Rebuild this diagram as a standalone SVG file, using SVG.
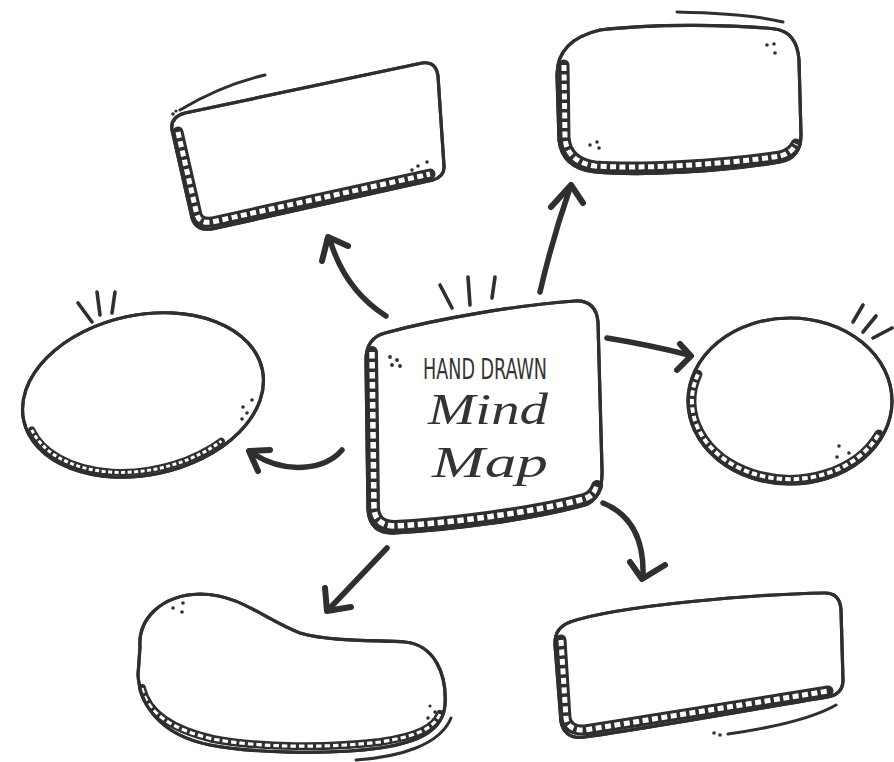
<svg xmlns="http://www.w3.org/2000/svg" width="894" height="762" viewBox="0 0 894 762">
<style>
.o{fill:#fff;stroke:#2f2f2f;stroke-width:3.2;stroke-linejoin:round}
.bd{fill:none;stroke:#2f2f2f;stroke-linecap:round;stroke-linejoin:round}
.bw{fill:none;stroke:#fff;stroke-linejoin:round}
.ln{fill:none;stroke:#2f2f2f;stroke-width:3;stroke-linecap:round}
.tk{fill:none;stroke:#2f2f2f;stroke-width:3.6;stroke-linecap:round}
.dt{fill:#2f2f2f}
.ar{fill:none;stroke:#2f2f2f;stroke-width:5.5;stroke-linecap:round;stroke-linejoin:round}
.ah{fill:none;stroke:#2f2f2f;stroke-width:6;stroke-linecap:round;stroke-linejoin:round}
.cap{font-family:"Liberation Sans Narrow","DejaVu Sans Condensed","Liberation Sans",sans-serif;font-size:29px;fill:#333}
.scr{font-family:"Liberation Serif","DejaVu Serif",serif;font-style:italic;font-size:44px;fill:#333}
</style>
<rect width="894" height="762" fill="#fff"/>

<g id="node-center">
<path class="o" d="M 385,333 C 440,318 520,305 575,301 Q 596,300 598,322 L 602,470 Q 603,498 585,505 C 530,520 450,530 395,533 Q 370,534 368,510 L 366,360 Q 366,338 385,333 Z"/>
<path class="bd" stroke-width="12" d="M 372,352 L 374,508 Q 375,526 395,526 C 450,523 530,513 584,499 Q 594,496 597,486"/>
<path class="bw" stroke-width="5.5" stroke-dasharray="6.5 3.5" d="M 372,352 L 374,508 Q 375,526 395,526 C 450,523 530,513 584,499 Q 594,496 597,486"/>
<path class="o" style="fill:none" d="M 385,333 C 440,318 520,305 575,301 Q 596,300 598,322 L 602,470 Q 603,498 585,505 C 530,520 450,530 395,533 Q 370,534 368,510 L 366,360 Q 366,338 385,333 Z"/>
<line class="tk" x1="440" y1="285" x2="452" y2="308"/>
<line class="tk" x1="468" y1="277" x2="470" y2="305"/>
<line class="tk" x1="495" y1="277" x2="492" y2="298"/>
<circle class="dt" cx="390" cy="357" r="1.9"/><circle class="dt" cx="397" cy="360" r="1.9"/><circle class="dt" cx="392" cy="365" r="1.9"/><circle class="dt" cx="400" cy="366" r="1.9"/>
<text class="cap" x="423" y="379" textLength="124" lengthAdjust="spacingAndGlyphs">HAND DRAWN</text>
<text class="scr" x="428" y="424" textLength="120" lengthAdjust="spacingAndGlyphs">Mind</text>
<text class="scr" x="432" y="477" textLength="116" lengthAdjust="spacingAndGlyphs">Map</text>
</g>

<g id="node-top-left">
<path class="o" d="M 185,113 L 422,63 Q 436,61 438,76 L 444,166 Q 445,176 433,180 L 212,229 Q 196,231 192,218 L 172,130 Q 170,117 185,113 Z"/>
<path class="bd" stroke-width="11" d="M 178,132 L 197,215 Q 200,224 212,222 L 430,174"/>
<path class="bw" stroke-width="5" stroke-dasharray="6 3.5" d="M 178,132 L 197,215 Q 200,224 212,222 L 430,174"/>
<path class="o" style="fill:none" d="M 185,113 L 422,63 Q 436,61 438,76 L 444,166 Q 445,176 433,180 L 212,229 Q 196,231 192,218 L 172,130 Q 170,117 185,113 Z"/>
<path class="ln" d="M 180,110 C 205,95 235,82 265,75"/>
<circle class="dt" cx="173" cy="114" r="1.8"/><circle class="dt" cx="176" cy="111" r="1.6"/>
<circle class="dt" cx="412" cy="170" r="1.8"/><circle class="dt" cx="418" cy="166" r="1.8"/><circle class="dt" cx="427" cy="162" r="1.8"/><circle class="dt" cx="422" cy="172" r="1.8"/>
</g>

<g id="node-top-right">
<path class="o" d="M 600,30 C 650,24 730,24 775,29 Q 797,32 799,60 L 801,135 Q 801,158 780,162 C 720,172 640,176 595,172 Q 562,168 559,140 L 557,75 Q 557,40 600,30 Z"/>
<path class="bd" stroke-width="11" d="M 564,65 L 565,138 Q 567,162 595,166 C 640,169 720,165 780,156 Q 792,153 796,144"/>
<path class="bw" stroke-width="5" stroke-dasharray="6 3.5" d="M 564,65 L 565,138 Q 567,162 595,166 C 640,169 720,165 780,156 Q 792,153 796,144"/>
<path class="o" style="fill:none" d="M 600,30 C 650,24 730,24 775,29 Q 797,32 799,60 L 801,135 Q 801,158 780,162 C 720,172 640,176 595,172 Q 562,168 559,140 L 557,75 Q 557,40 600,30 Z"/>
<path class="ln" d="M 677,12 C 720,13 760,16 783,22"/>
<circle class="dt" cx="767" cy="45" r="1.8"/><circle class="dt" cx="774" cy="44" r="1.8"/><circle class="dt" cx="775" cy="53" r="1.8"/>
<circle class="dt" cx="590" cy="145" r="1.8"/><circle class="dt" cx="597" cy="142" r="1.8"/><circle class="dt" cx="599" cy="148" r="1.8"/>
</g>

<g id="node-left">
<g transform="translate(143,395) rotate(-12)">
<ellipse class="o" cx="0" cy="0" rx="122" ry="80"/>
<path class="bd" stroke-width="7" d="M -116,11 A 117 75 0 0 0 67.1,61.4"/>
<path class="bw" stroke-width="3" stroke-dasharray="4 2.5" d="M -116,11 A 117 75 0 0 0 67.1,61.4"/>
<ellipse class="o" style="fill:none" cx="0" cy="0" rx="122" ry="80"/>
</g>
<line class="tk" x1="78" y1="303" x2="92" y2="322"/>
<line class="tk" x1="97" y1="292" x2="100" y2="315"/>
<line class="tk" x1="115" y1="292" x2="112" y2="313"/>
<circle class="dt" cx="243" cy="407" r="1.8"/><circle class="dt" cx="252" cy="400" r="1.8"/><circle class="dt" cx="247" cy="413" r="1.8"/><circle class="dt" cx="242" cy="419" r="1.8"/>
</g>

<g id="node-right">
<g transform="translate(790,401)">
<ellipse class="o" cx="0" cy="0" rx="102" ry="83"/>
<path class="bd" stroke-width="9" d="M -92.1,-26.7 A 98 78 0 0 0 88.8,33"/>
<path class="bw" stroke-width="4" stroke-dasharray="5.5 3" d="M -92.1,-26.7 A 98 78 0 0 0 88.8,33"/>
<ellipse class="o" style="fill:none" cx="0" cy="0" rx="102" ry="83"/>
</g>
<line class="tk" x1="853" y1="322" x2="863" y2="305"/>
<line class="tk" x1="863" y1="332" x2="876" y2="316"/>
<line class="tk" x1="873" y1="338" x2="892" y2="328"/>
<circle class="dt" cx="839" cy="446" r="1.8"/><circle class="dt" cx="837" cy="457" r="1.8"/><circle class="dt" cx="849" cy="453" r="1.8"/>
</g>

<g id="node-bottom-left">
<path class="o" d="M 140,647 C 138,620 160,595 200,594 C 240,594 265,620 300,633 C 330,642 380,640 405,642 C 435,645 447,675 445,705 C 443,730 420,742 380,748 C 330,755 250,753 210,745 C 160,735 140,705 138,675 Z"/>
<path class="bd" stroke-width="8" d="M 142,688 C 148,715 175,730 213,739 C 260,748 330,748 380,742 C 418,736 434,728 440,714"/>
<path class="bw" stroke-width="3.2" stroke-dasharray="5.5 3" d="M 142,688 C 148,715 175,730 213,739 C 260,748 330,748 380,742 C 418,736 434,728 440,714"/>
<path class="o" style="fill:none" d="M 140,647 C 138,620 160,595 200,594 C 240,594 265,620 300,633 C 330,642 380,640 405,642 C 435,645 447,675 445,705 C 443,730 420,742 380,748 C 330,755 250,753 210,745 C 160,735 140,705 138,675 Z"/>
<path class="ln" d="M 356,760 C 400,757 440,745 451,718"/>
<circle class="dt" cx="173" cy="608" r="1.8"/><circle class="dt" cx="183" cy="603" r="1.8"/><circle class="dt" cx="182" cy="612" r="1.8"/>
<circle class="dt" cx="430" cy="706" r="1.6"/><circle class="dt" cx="435" cy="712" r="1.8"/><circle class="dt" cx="428" cy="718" r="1.8"/>
</g>

<g id="node-bottom-right">
<path class="o" d="M 570,622 C 620,605 760,594 825,593 Q 840,593 841,610 L 843,680 Q 843,694 828,697 C 760,708 650,728 585,737 Q 565,740 561,722 L 555,645 Q 554,628 570,622 Z"/>
<path class="bd" stroke-width="11" d="M 561,640 L 566,718 Q 568,731 585,730 L 828,691"/>
<path class="bw" stroke-width="5" stroke-dasharray="6 3.5" d="M 561,640 L 566,718 Q 568,731 585,730 L 828,691"/>
<path class="o" style="fill:none" d="M 570,622 C 620,605 760,594 825,593 Q 840,593 841,610 L 843,680 Q 843,694 828,697 C 760,708 650,728 585,737 Q 565,740 561,722 L 555,645 Q 554,628 570,622 Z"/>
<path class="ln" d="M 728,734 C 770,728 810,720 836,705"/>
<circle class="dt" cx="714" cy="733" r="1.8"/><circle class="dt" cx="720" cy="735" r="1.8"/>
</g>

<g id="connectors">
<path class="ar" d="M 386,316 Q 345,290 330,240"/>
<path class="ah" d="M 322,261 L 328,237 L 348,246"/>
<path class="ar" d="M 540,292 Q 552,240 570,188"/>
<path class="ah" d="M 551,207 L 571,185 L 583,203"/>
<path class="ar" d="M 607,338 Q 650,345 689,355"/>
<path class="ah" d="M 680,344 L 691,356 L 677,370"/>
<path class="ar" d="M 342,450 C 325,470 285,475 252,453"/>
<path class="ah" d="M 270,450 L 249,451 L 258,471"/>
<path class="ar" d="M 387,548 L 330,608"/>
<path class="ah" d="M 325,588 L 327,611 L 351,607"/>
<path class="ar" d="M 603,503 Q 645,520 643,577"/>
<path class="ah" d="M 630,562 L 642,579 L 665,565"/>
</g>
</svg>
